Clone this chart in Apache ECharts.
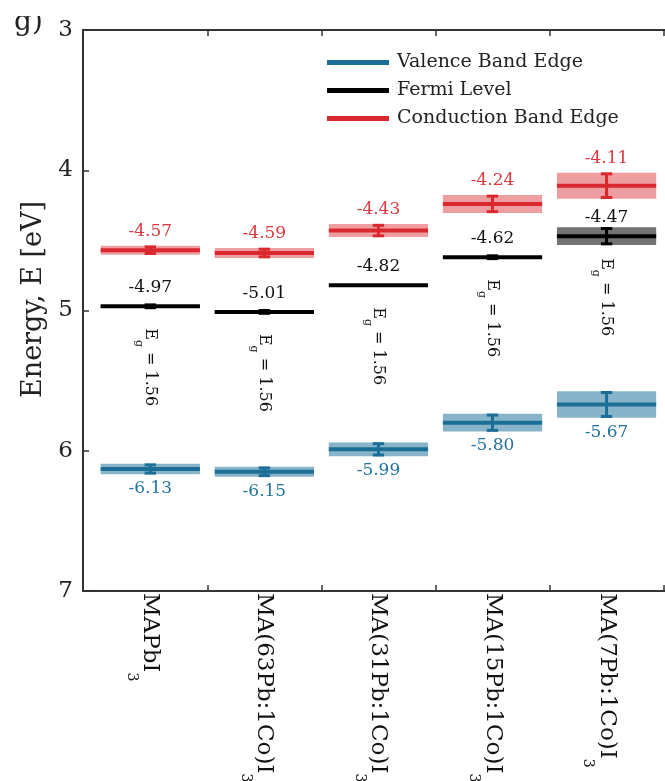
<!DOCTYPE html>
<html><head><meta charset="utf-8">
<script src="https://cdn.jsdelivr.net/npm/echarts@6/dist/echarts.min.js"></script>
<style>html,body{margin:0;padding:0;background:#fff}#c{width:665px;height:781px}</style>
</head><body><div id="c"></div>
<script>
// ---- data ----
const categories = ['MAPbI3', 'MA(63Pb:1Co)I3', 'MA(31Pb:1Co)I3', 'MA(15Pb:1Co)I3', 'MA(7Pb:1Co)I3'];
const valence = [-6.13, -6.15, -5.99, -5.80, -5.67];
const valenceErr = [0.038, 0.036, 0.049, 0.063, 0.094];
const fermi = [-4.97, -5.01, -4.82, -4.62, -4.47];
const fermiErr = [0.010, 0.010, 0, 0.008, 0.063];
const conduction = [-4.57, -4.59, -4.43, -4.24, -4.11];
const conductionErr = [0.032, 0.036, 0.046, 0.064, 0.093];
const yTicks = [-7, -6, -5, -4, -3];
const seriesNames = ['Valence Band Edge', 'Fermi Level', 'Conduction Band Edge'];

// ---- style ----
const FONT = 'DejaVu Serif';
const BLUE = '#1b6f97', RED = '#d9282e', BLACK = '#000000';
const AX = '#333333';
const HALF_W = 0.435;
const CAP_W = 0.05;

function levelSeries(name, values, errs, color, bandColor, labelColor, labelMode) {
  return {
    type: 'custom', name: name, xAxisIndex: 0, yAxisIndex: 0,
    itemStyle: { color: color },
    data: values.map((v, i) => [i + 1, v, errs[i]]),
    renderItem: function (params, api) {
      const x = api.value(0), v = api.value(1), e = api.value(2);
      const c = api.coord([x, v]);
      const l = api.coord([x - HALF_W, v]);
      const r = api.coord([x + HALF_W, v]);
      const top = api.coord([x, v + e]);
      const bot = api.coord([x, v - e]);
      const ePx = bot[1] - c[1];
      const ch = [];
      if (e > 0) {
        ch.push({ type: 'rect', shape: { x: l[0], y: top[1], width: r[0] - l[0], height: bot[1] - top[1] },
          style: { fill: bandColor } });
      }
      ch.push({ type: 'line', shape: { x1: l[0], y1: c[1], x2: r[0], y2: c[1] },
        style: { stroke: color, lineWidth: 4 } });
      if (e > 0) {
        const h = Math.max(ePx - 1.2, 1.4);
        const cl = api.coord([x - CAP_W, v])[0], cr = api.coord([x + CAP_W, v])[0];
        const st = { stroke: color, lineWidth: 3 };
        ch.push({ type: 'line', shape: { x1: c[0], y1: c[1] - h, x2: c[0], y2: c[1] + h }, style: st });
        ch.push({ type: 'line', shape: { x1: cl, y1: c[1] - h, x2: cr, y2: c[1] - h }, style: st });
        ch.push({ type: 'line', shape: { x1: cl, y1: c[1] + h, x2: cr, y2: c[1] + h }, style: st });
      }
      let ty, va;
      if (labelMode === 'above') { ty = c[1] - ePx - 6; va = 'bottom'; }
      else if (labelMode === 'fermi') { ty = c[1] - 10; va = 'bottom'; }
      else { ty = c[1] + ePx + 6; va = 'top'; }
      ch.push({ type: 'text', x: c[0], y: ty,
        style: { text: v.toFixed(2), fill: labelColor, font: '17px "' + FONT + '"', align: 'center', verticalAlign: va } });
      return { type: 'group', children: ch };
    }
  };
}

const egSeries = {
  type: 'custom', name: 'Eg', xAxisIndex: 0, yAxisIndex: 0,
  data: fermi.map((f, i) => [i + 1, f, conduction[i] - valence[i]]),
  renderItem: function (params, api) {
    const c = api.coord([api.value(0), api.value(1)]);
    const eg = api.value(2);
    return {
      type: 'text', x: c[0], y: c[1] + 22, rotation: -Math.PI / 2,
      style: {
        text: '{m|E}{s|g}{m| = ' + eg.toFixed(2) + '}',
        align: 'left', verticalAlign: 'middle', fill: '#111',
        rich: {
          m: { fontFamily: FONT, fontSize: 16, fill: '#111', lineHeight: 18 },
          s: { fontFamily: FONT, fontSize: 11, fill: '#111', padding: [22, 0, 0, 0], lineHeight: 12 }
        }
      }
    };
  }
};

const boundaries = categories.map((_, i) => i + 1.5);
const centers = categories.map((_, i) => i + 1);

function catLabel(v) {
  const idx = Math.round(v) - 1;
  const s = categories[idx] || '';
  return s.replace(/3$/, '{sub|3}');
}

const xCommon = {
  type: 'value', min: 0.41, max: 5.6,
  axisLine: { show: true, onZero: false, lineStyle: { color: AX, width: 2 } },
  axisTick: { show: true, inside: true, length: 6, customValues: boundaries, lineStyle: { color: AX, width: 1.5 } },
  splitLine: { show: false }
};

const chart = echarts.init(document.getElementById('c'), null, { renderer: 'canvas' });
chart.setOption({
  backgroundColor: '#fff',
  animation: false,
  title: { text: 'g)', left: 9, top: 4, textStyle: { fontFamily: FONT, fontSize: 28, fontWeight: 'normal', color: '#222' } },
  graphic: [{ type: 'rect', left: 0, top: 0, z: 100, shape: { width: 50, height: 16 }, style: { fill: '#fff' } }],
  legend: {
    data: seriesNames, orient: 'vertical', left: 322, top: 48, itemGap: 9,
    icon: 'rect', itemWidth: 62, itemHeight: 5,
    textStyle: { fontFamily: FONT, fontSize: 19, color: '#222', padding: [0, 0, 0, 3] }
  },
  grid: { left: 83, right: -10, top: 30, bottom: 190, containLabel: false, outerBoundsMode: 'none' },
  xAxis: [
    Object.assign({}, xCommon, {
      position: 'bottom',
      axisLabel: {
        customValues: centers, rotate: -90, margin: 2, formatter: catLabel,
        fontFamily: FONT, fontSize: 23, color: '#111',
        rich: { sub: { fontFamily: FONT, fontSize: 14, color: '#111', padding: [38, 0, 0, 0] } }
      }
    }),
    Object.assign({}, xCommon, { position: 'top', axisLabel: { show: false } })
  ],
  yAxis: {
    type: 'value', min: -7, max: -3, interval: 1,
    axisLine: { show: true, onZero: false, lineStyle: { color: AX, width: 2 } },
    axisTick: { show: true, inside: true, length: 6, lineStyle: { color: AX, width: 1.5 } },
    axisLabel: { formatter: v => String(Math.abs(v)), fontFamily: FONT, fontSize: 23, color: '#222', margin: 10 },
    splitLine: { show: false },
    name: 'Energy, E [eV]', nameLocation: 'middle', nameRotate: 90, nameGap: 32,
    nameTextStyle: { fontFamily: FONT, fontSize: 27, color: '#222', padding: [0, 0, 0, 22] }
  },
  series: [
    levelSeries(seriesNames[0], valence, valenceErr, BLUE, 'rgba(27,111,151,0.52)', '#2274a0', 'below'),
    levelSeries(seriesNames[1], fermi, fermiErr, BLACK, 'rgba(0,0,0,0.55)', '#111', 'fermi'),
    levelSeries(seriesNames[2], conduction, conductionErr, RED, 'rgba(217,40,46,0.45)', '#d9383e', 'above'),
    egSeries
  ]
});
</script>
</body></html>
